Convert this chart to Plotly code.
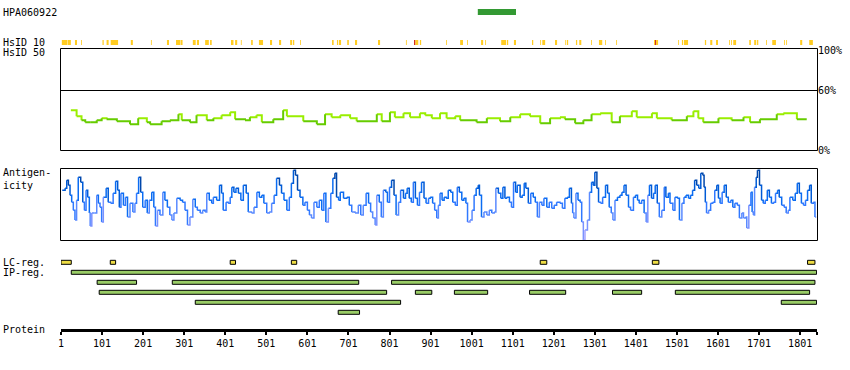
import plotly.graph_objects as go

W, H = 850, 370
FONT = "DejaVu Sans Mono"
PROTEIN_LEN = 1841

# ---------------- data ----------------
antibody_name = "HPA060922"
antibody_range = [1016, 1109]

hsid10_start = [3, 17, 35, 50, 102, 112, 122, 171, 220, 259, 281, 293, 322, 332, 352, 364, 415, 425, 439, 464,
                483, 510, 532, 559, 566, 583, 661, 673, 678, 698, 717, 773, 841, 861, 864, 875, 939, 973, 990,
                1024, 1034, 1073, 1087, 1104, 1148, 1168, 1173, 1204, 1229, 1233, 1255, 1263, 1292, 1311, 1326,
                1353, 1445, 1448, 1450, 1504, 1513, 1518, 1569, 1582, 1596, 1628, 1633, 1638, 1677, 1689, 1696,
                1718, 1733, 1762, 1767, 1801, 1823]
hsid10_end = [16, 25, 40, 52, 105, 117, 140, 176, 222, 264, 292, 297, 329, 337, 361, 368, 421, 430, 441, 468,
              493, 515, 537, 564, 569, 585, 665, 676, 683, 702, 722, 778, 843, 864, 871, 878, 941, 980, 992,
              1029, 1036, 1085, 1090, 1109, 1151, 1170, 1180, 1209, 1231, 1236, 1258, 1268, 1294, 1319, 1328,
              1355, 1448, 1450, 1455, 1506, 1516, 1528, 1572, 1587, 1601, 1630, 1635, 1645, 1681, 1694, 1699,
              1720, 1742, 1764, 1769, 1806, 1832]
hsid10_high = [(861, 864), (1448, 1450)]   # identity level "high" (red)

hsid50_pos = [25, 39, 51, 60, 72, 88, 100, 112, 137, 169, 189, 210, 218, 246, 266, 287, 295, 315, 331, 356,
              372, 392, 413, 425, 449, 461, 477, 490, 518, 542, 551, 591, 624, 644, 660, 681, 705, 721, 770,
              782, 802, 814, 835, 851, 875, 888, 904, 924, 940, 961, 973, 1013, 1038, 1070, 1095, 1119, 1143,
              1168, 1192, 1216, 1228, 1253, 1273, 1293, 1314, 1342, 1362, 1391, 1403, 1440, 1452, 1488, 1525,
              1541, 1553, 1565, 1602, 1634, 1663, 1679, 1703, 1744, 1760, 1793]
hsid50_val = [40, 34, 30, 28, 28, 30, 32, 31, 29, 26, 32, 28, 26, 29, 30, 36, 30, 28, 35, 30,
              32, 35, 38, 31, 30, 33, 35, 28, 31, 40, 34, 29, 26, 36, 33, 35, 32, 29, 36,
              29, 38, 33, 37, 33, 37, 35, 32, 37, 32, 34, 30, 28, 32, 29, 33, 36, 34,
              27, 32, 33, 31, 27, 30, 36, 37, 28, 34, 39, 33, 37, 32, 30, 34,
              39, 32, 28, 32, 30, 33, 28, 31, 36, 37, 31]
hsid50_last = 1817

antigen_pos = [4, 11, 15, 19, 23, 27, 31, 35, 39, 43, 49, 54, 58, 62, 66, 70, 72, 76, 82, 88, 92, 96, 100, 104,
               111, 116, 122, 128, 134, 139, 143, 147, 153, 158, 163, 169, 176, 181, 185, 190, 195, 200, 206,
               211, 216, 222, 227, 231, 236, 242, 249, 254, 260, 266, 271, 276, 283, 291, 297, 303, 309, 315,
               322, 328, 333, 340, 346, 352, 356, 362, 368, 372, 380, 387, 392, 396, 403, 408, 413, 417, 422,
               427, 433, 439, 445, 452, 457, 465, 471, 478, 484, 490, 495, 502, 508, 514, 520, 526, 533, 538,
               544, 551, 557, 562, 567, 572, 577, 583, 590, 595, 601, 606, 611, 617, 624, 630, 636, 641, 646,
               652, 658, 663, 668, 672, 677,
               681, 689, 697, 703, 709, 717, 725, 731, 737, 744, 750, 755, 760, 766, 770, 776, 781, 786, 792,
               796, 801, 806, 812, 817, 823, 828, 835, 840, 844, 849, 854, 859, 864, 869, 874, 879, 885, 890,
               896, 900, 906, 911, 916, 920, 924, 929, 934, 939, 944, 950, 955, 961, 966, 971, 977, 982, 987,
               991, 997, 1002, 1007, 1012, 1017, 1020, 1025, 1031, 1038, 1044, 1050, 1056, 1060, 1066, 1072,
               1077, 1082, 1086, 1093, 1098, 1103, 1108, 1112, 1119, 1124, 1129, 1133, 1139, 1145, 1151, 1156,
               1161, 1166, 1172, 1177, 1184, 1190, 1196, 1202, 1208,
               1216, 1222, 1228, 1234, 1239, 1244, 1247, 1250, 1255, 1260, 1265, 1269, 1273, 1277, 1283, 1288,
               1293, 1297, 1301, 1306, 1310, 1315, 1320, 1327, 1332, 1336, 1341, 1345, 1350, 1356, 1362, 1367,
               1372, 1377, 1383, 1388, 1395, 1400, 1405, 1409, 1415, 1421, 1426, 1430, 1434, 1439, 1444, 1448,
               1453, 1458, 1464, 1470, 1474, 1480, 1484, 1491, 1496, 1502, 1507, 1513, 1518, 1523, 1529, 1534,
               1539, 1544, 1549, 1554, 1559, 1564, 1567, 1570, 1573, 1578, 1583, 1588, 1593, 1598, 1602, 1606,
               1611, 1616, 1621, 1626, 1632, 1637, 1642, 1648, 1653, 1659, 1663, 1668, 1671, 1676, 1681, 1684,
               1687, 1690, 1694, 1697, 1702, 1707, 1711, 1716, 1721, 1726, 1731, 1736, 1741, 1746, 1750, 1756,
               1762, 1767, 1772, 1776, 1783, 1789, 1794, 1799, 1804, 1809, 1814, 1819, 1824, 1828, 1833, 1837]
antigen_val = [50, 52, 60, 55, 45, 38, 30, 20, 40, 63, 58, 38, 30, 50, 43, 27, 14, 27, 27, 45, 37, 33, 18, 43,
               52, 38, 37, 47, 59, 50, 33, 47, 35, 43, 23, 37, 28, 37, 47, 63, 48, 33, 40,
               27, 40, 48, 33, 14, 30, 25, 48, 40, 33, 25, 20, 27, 42, 40, 38, 30, 15, 23,
               41, 33, 30, 27, 30, 28, 47, 40, 37, 43, 40, 55, 47, 30, 38, 37, 43, 53, 48,
               52, 47, 40, 55, 47, 28, 27, 33, 48, 43, 45, 37, 27, 28, 37, 45, 62, 55, 47,
               40, 30, 43, 57, 70, 65, 50, 43, 35, 38, 30, 25, 22, 38, 33, 40, 30, 47, 18,
               32, 47, 62, 67, 43, 40,
               48, 42, 43, 35, 28, 27, 35, 25, 35, 47, 37, 28, 22, 15, 45, 38, 23, 50, 48,
               38, 53, 60, 45, 25, 38, 50, 42, 47, 52, 42, 38, 58, 42, 35, 48, 58, 42, 37,
               42, 43, 37, 30, 22, 35, 47, 40, 43, 42, 50, 48, 38, 35, 53, 48, 40, 42, 37,
               18, 20, 30, 45, 52, 55, 45, 23, 28, 25, 30, 27, 28, 52, 47, 42,
               53, 42, 43, 38, 33, 58, 48, 55, 43, 45, 57, 52, 37, 47, 43, 38,
               23, 38, 35, 42, 33, 38, 32, 35, 38,
               37, 32, 42, 43, 52, 37, 27, 22, 47, 40, 38, 18, 0, 10, 20, 48,
               58, 55, 68, 52, 38, 37, 43, 55, 47, 33, 27, 20, 40, 43, 45, 48,
               55, 45, 33, 30, 43, 45, 40, 37, 40, 27, 18, 45, 55, 42, 47, 55,
               37, 23, 30, 53, 43, 47, 37, 30, 43, 42, 20, 37, 43, 45, 42, 45,
               50, 60, 55, 52, 67, 65, 53, 38, 27, 30, 37, 38, 50, 55, 42, 37,
               48, 55, 43, 38, 40, 33, 37, 35, 22, 27, 22, 23, 12, 35, 48, 28,
               25, 53, 63, 70, 55, 40, 37, 40, 50, 43, 37, 38, 47, 50, 43, 35,
               33, 27, 30, 43, 40, 47, 57, 47, 37, 35, 40, 50, 55, 37, 38, 23]
antigen_last = 1840

lc_start = [1, 121, 413, 562, 1168, 1441, 1819]
lc_end = [26, 134, 426, 575, 1184, 1457, 1837]

ip_row = [1, 2, 2, 2, 3, 3, 3, 3, 3, 3, 4, 4, 5]
ip_start = [26, 89, 272, 806, 94, 864, 959, 1142, 1344, 1497, 328, 1755, 676]
ip_end = [1841, 185, 726, 1837, 794, 904, 1040, 1230, 1415, 1824, 828, 1841, 728]

tick_vals = [1, 101, 201, 301, 401, 501, 601, 701, 801, 901, 1001, 1101, 1201, 1301, 1401, 1501, 1601, 1701, 1801]
pct_ticks = [0, 60, 100]

# ---------------- helpers ----------------
def hsid50_color(v):
    return "#99ee00" if v >= 32 else "#66cc00"

def antigen_color(v):
    if v >= 60: return "#0047ab"
    if v >= 50: return "#005bd6"
    if v >= 40: return "#0b6cf2"
    if v >= 30: return "#3079ff"
    if v >= 20: return "#5a8aff"
    if v >= 10: return "#7a92ff"
    return "#a3a3ff"

def step_groups(pos, val, last, color_of):
    groups = {}
    n = len(pos)
    for i in range(n):
        x0 = pos[i]
        x1 = pos[i + 1] if i + 1 < n else last
        xs, ys = groups.setdefault(color_of(val[i]), ([], []))
        xs += [x0, x1]
        ys += [val[i], val[i]]
        if i + 1 < n:
            xs.append(x1)
            ys.append(val[i + 1])
        xs.append(None)
        ys.append(None)
    return groups

def py(p):  # pixel row -> paper fraction
    return (H - p) / H

X0, X1 = 61 / W, 817 / W

fig = go.Figure()

for c, (xs, ys) in step_groups(hsid50_pos, hsid50_val, hsid50_last, hsid50_color).items():
    fig.add_trace(go.Scatter(x=xs, y=ys, mode="lines", line=dict(color=c, width=2),
                             xaxis="x", yaxis="y2", hoverinfo="skip", connectgaps=False))

for c, (xs, ys) in step_groups(antigen_pos, antigen_val, antigen_last, antigen_color).items():
    fig.add_trace(go.Scatter(x=xs, y=ys, mode="lines", line=dict(color=c, width=1.5),
                             xaxis="x", yaxis="y3", hoverinfo="skip", connectgaps=False))

fig.add_trace(go.Scatter(x=[None], y=[None], xaxis="x2", yaxis="y", showlegend=False))
fig.add_trace(go.Scatter(x=[None], y=[None], xaxis="x", yaxis="y4", showlegend=False))
fig.add_trace(go.Scatter(x=[None], y=[None], xaxis="x", yaxis="y", showlegend=False))

shapes = []
# antibody bar
shapes.append(dict(type="rect", xref="x", yref="y", x0=antibody_range[0], x1=antibody_range[1],
                   y0=9, y1=15, fillcolor="#339933", line=dict(width=0)))
# HsID 10 marks
for s, e in zip(hsid10_start, hsid10_end):
    col = "#c80000" if (s, e) in hsid10_high else "#ffcc22"
    shapes.append(dict(type="rect", xref="x", yref="y", x0=s, x1=e, y0=40, y1=45,
                       fillcolor=col, line=dict(width=0)))
# HsID 50 box + 60% line
shapes.append(dict(type="rect", xref="paper", yref="y", x0=60.5 / W, x1=817.5 / W, y0=48.5, y1=150.5,
                   line=dict(color="black", width=1), fillcolor="rgba(0,0,0,0)", layer="above"))
shapes.append(dict(type="line", xref="paper", yref="y", x0=60.5 / W, x1=817.5 / W, y0=90.5, y1=90.5,
                   line=dict(color="black", width=1)))
# antigenicity box
shapes.append(dict(type="rect", xref="paper", yref="y", x0=60.5 / W, x1=817.5 / W, y0=168.5, y1=240.5,
                   line=dict(color="black", width=1), fillcolor="rgba(0,0,0,0)", layer="above"))
# LC regions (row 0)
for s, e in zip(lc_start, lc_end):
    shapes.append(dict(type="rect", xref="x", yref="y4", x0=s, x1=e, y0=-0.2, y1=0.2,
                       fillcolor="#eedd44", line=dict(color="black", width=1)))
# IP regions
for r, s, e in zip(ip_row, ip_start, ip_end):
    shapes.append(dict(type="rect", xref="x", yref="y4", x0=s, x1=e, y0=r - 0.2, y1=r + 0.2,
                       fillcolor="#99cc66", line=dict(color="black", width=1)))

annots = []
def label(text, x, y, anchor="left"):
    annots.append(dict(text=text, xref="paper", yref="y", x=x / W, y=y, xanchor=anchor, yanchor="middle",
                       showarrow=False, borderpad=0, align="left",
                       font=dict(family=FONT, size=10, color="black")))

label(antibody_name, 2, 12.5)
label("HsID 10", 2, 42.5)
label("HsID 50", 2, 52.5)
label("Antigen-<br>icity", 2, 179)
label("LC-reg.", 2, 262.5)
label("IP-reg.", 2, 272.5)
label("Protein", 2, 329.5)

axis_font = dict(family=FONT, size=10, color="black")
fig.update_layout(
    width=W, height=H, margin=dict(l=0, r=0, t=0, b=0, pad=0, autoexpand=False),
    paper_bgcolor="white", plot_bgcolor="rgba(0,0,0,0)", showlegend=False,
    xaxis=dict(domain=[X0, X1], range=[1, PROTEIN_LEN + 1], visible=False, fixedrange=True),
    xaxis2=dict(domain=[X0, X1], range=[1, PROTEIN_LEN + 1], anchor="free", position=py(329.7),
                showline=True, linewidth=3, linecolor="black", ticks="outside", ticklen=3, tickwidth=2,
                tickcolor="black", tickvals=tick_vals + [PROTEIN_LEN], automargin=False,
                ticktext=[str(t) for t in tick_vals] + [""], tickfont=axis_font,
                showgrid=False, zeroline=False, fixedrange=True),
    yaxis=dict(domain=[0, 1], range=[H, 0], visible=False, fixedrange=True, automargin=False),
    yaxis2=dict(domain=[py(150), py(50.5)], range=[0, 100], anchor="x", side="right", automargin=False,
                tickvals=pct_ticks, ticktext=[f"{p}%" for p in pct_ticks], tickfont=axis_font,
                ticks="", showline=False, showgrid=False, zeroline=False, fixedrange=True),
    yaxis3=dict(domain=[py(240), py(168.3)], range=[0, 72], anchor="x", visible=False, fixedrange=True),
    yaxis4=dict(domain=[py(317.3), py(257.3)], range=[5.5, -0.5], anchor="x", visible=False, fixedrange=True),
    shapes=shapes, annotations=annots,
)

page_fix = (
    "document.documentElement.style.margin='0';document.documentElement.style.overflow='hidden';"
    "document.body.style.margin='0';document.body.style.padding='0';document.body.style.overflow='hidden';"
    "var d=document.getElementById('{plot_id}');d.style.position='absolute';"
    "d.style.left='0px';d.style.top='0px';"
)
fig.write_html("out.html", config={"staticPlot": True}, post_script=page_fix)
